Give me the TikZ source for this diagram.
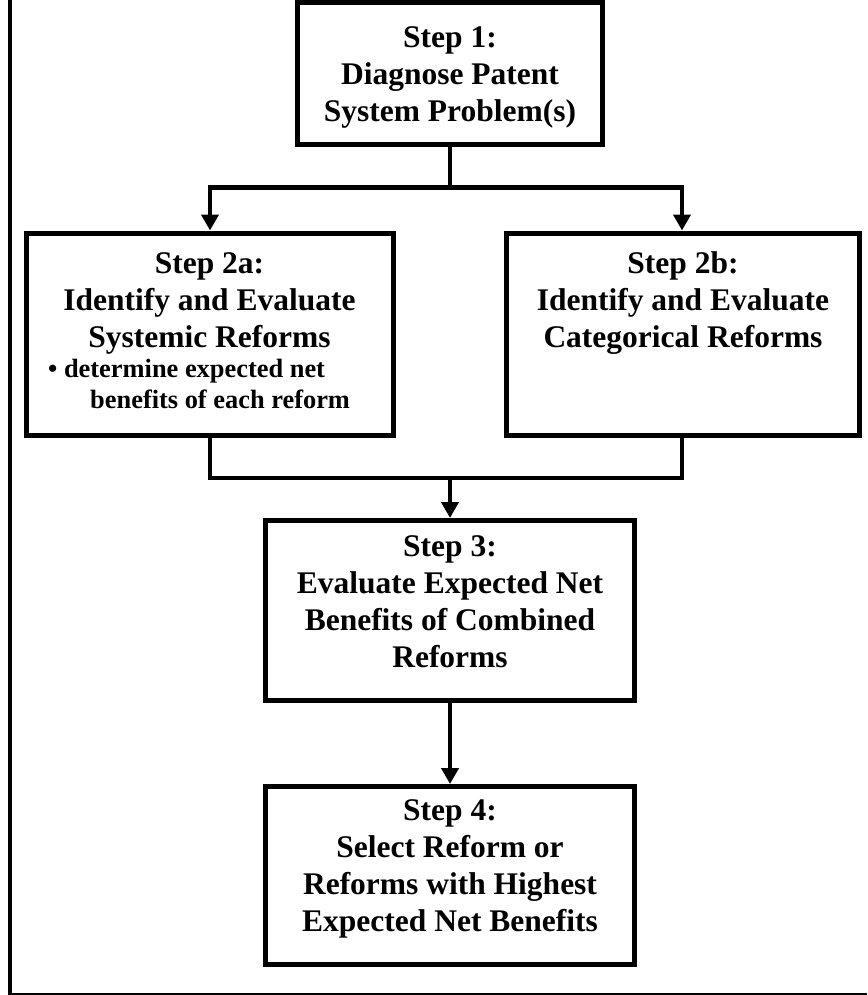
\documentclass[tikz,border=0pt]{standalone}
\usepackage{fontspec}
\setmainfont{Liberation Serif}
\usetikzlibrary{arrows.meta}
\begin{document}
\begin{tikzpicture}[x=1pt,y=-1pt,
  stepbox/.style={draw=black,line width=5pt,fill=white,inner sep=0pt,rectangle},
  conn/.style={line width=4.6pt},
  arr/.style={line width=4.6pt,-{Triangle[width=17pt,length=16pt]}},
  headtxt/.style={align=center,anchor=base,inner sep=0pt,font=\bfseries\fontsize{31.5}{37}\selectfont},
  bultxt/.style={anchor=base west,inner sep=0pt,font=\bfseries\fontsize{26.4}{31}\selectfont}]
\useasboundingbox (0,0) rectangle (867,995);
% frame
\draw[line width=4.5pt] (10,0) -- (10,995);
\draw[line width=1.5pt] (10,994) -- (867,994);
% boxes
\node[stepbox,minimum width=305pt,minimum height=142pt] (b1) at (450,74) {};
\node[stepbox,minimum width=367pt,minimum height=202pt] (b2a) at (209.5,334) {};
\node[stepbox,minimum width=353pt,minimum height=202pt] (b2b) at (683,334) {};
\node[stepbox,minimum width=369pt,minimum height=180pt] (b3) at (450,610.5) {};
\node[stepbox,minimum width=369pt,minimum height=178pt] (b4) at (450,875.5) {};
% texts (anchor base = last line)
\node[headtxt] (t1) at (450,122) {Step 1:\\Diagnose Patent\\System Problem(s)};
\node[headtxt] (t2a) at (209.5,347) {Step 2a:\\Identify and Evaluate\\Systemic Reforms};
\node[bultxt] (t2ab1) at (48,377) {\textbullet\ determine expected net};
\node[bultxt] (t2ab2) at (90,408) {benefits of each reform};
\node[headtxt] (t2b) at (683,347) {Step 2b:\\Identify and Evaluate\\Categorical Reforms};
\node[headtxt] (t3) at (450,667) {Step 3:\\Evaluate Expected Net\\Benefits of Combined\\Reforms};
\node[headtxt] (t4) at (450,931) {Step 4:\\Select Reform or\\Reforms with Highest\\Expected Net Benefits};
% connectors
\coordinate (s1) at (450,187.5);
\coordinate (sl) at (210,187.5);
\coordinate (sr) at (682,187.5);
\draw[conn] (b1.south) -- (s1);
\draw[conn,line cap=rect] (sl) -- (sr);
\draw[arr] (sl) -- (sl |- b2a.north);
\draw[arr] (sr) -- (sr |- b2b.north);
\coordinate (jl) at (210,478);
\coordinate (jr) at (682,478);
\coordinate (jm) at (450,478);
\draw[conn,line cap=rect] (jl |- b2a.south) -- (jl) -- (jr) -- (jr |- b2b.south);
\draw[arr] (jm) -- (b3.north);
\draw[arr] (b3.south) -- (b4.north);
\end{tikzpicture}
\end{document}
